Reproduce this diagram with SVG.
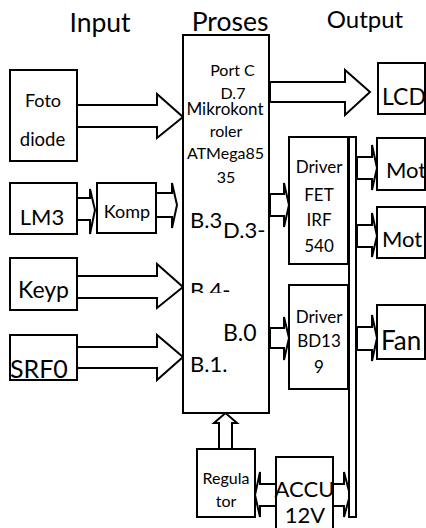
<svg xmlns="http://www.w3.org/2000/svg" width="426" height="528" viewBox="0 0 426 528">
<style>
.box{fill:#fff;stroke:#000;stroke-width:2}
.arr{fill:#fff;stroke:#000;stroke-width:2;stroke-linejoin:miter}
text{font-family:Lato,"Open Sans","Liberation Sans",sans-serif;fill:#000}
.h{font-size:26.5px;text-anchor:middle}
.s{font-size:16px;text-anchor:middle}
.d{font-size:17px;text-anchor:middle}
.m{font-size:23px}
.l{font-size:22px}
</style>
<defs>
<clipPath id="cb4"><rect x="180" y="270" width="80" height="23"/></clipPath>
<clipPath id="csrf"><rect x="0" y="340" width="100" height="38"/></clipPath>
</defs>
<g id="headers">
<text class="h" x="100" y="32">Input</text>
<text class="h" x="230" y="31">Proses</text>
<text x="365" y="28" font-size="24" text-anchor="middle">Output</text>
</g>
<g id="connectors">
<polygon class="arr" points="77,105 157,105 157,94 183,117 157,138 157,127 77,127"/>
<polygon class="arr" points="77,198 90,198 90,189 95,210 90,234 90,220 77,220"/>
<polygon class="arr" points="156,193 172,193 172,183 177,205 172,228 172,217 156,217"/>
<polygon class="arr" points="77,276 157,276 157,264 183,287 157,308 157,298 77,298"/>
<polygon class="arr" points="77,347 157,347 157,335 183,357 157,380 157,368 77,368"/>
<polygon class="arr" points="270,82 345,82 345,70 370,92 345,115 345,102 270,102"/>
<polygon class="arr" points="270,194 284,194 284,183 289,205 284,227 284,216 270,216"/>
<polygon class="arr" points="270,328 284,328 284,317 289,338 284,360 284,348 270,348"/>
<polygon class="arr" points="357,157 372,157 372,145 377,168 372,190 372,179 357,179"/>
<polygon class="arr" points="357,225 372,225 372,213 377,236 372,257 372,247 357,247"/>
<polygon class="arr" points="357,327 372,327 372,315 377,338 372,361 372,350 357,350"/>
<polygon class="arr" points="219,449 219,423 214,423 225.5,413 237,423 232,423 232,449"/>
<polygon class="arr" points="276,484 260,484 260,472 255,495 260,517 260,506 276,506"/>
<polygon class="arr" points="333,484 344,484 344,472 350,495 344,517 344,506 333,506"/>
</g>
<g id="foto">
<rect class="box" x="10" y="70" width="67" height="91"/>
<text x="43" y="107" font-size="18" text-anchor="middle">Foto</text>
<text x="42.5" y="146" font-size="18.5" text-anchor="middle">diode</text>
</g>
<g id="lm3">
<rect class="box" x="10" y="183" width="67" height="51"/>
<text x="42" y="225" font-size="22" text-anchor="middle">LM3</text>
</g>
<g id="komp">
<rect class="box" x="97" y="183" width="59" height="50"/>
<text x="127" y="218" font-size="18" text-anchor="middle">Komp</text>
</g>
<g id="keyp">
<rect class="box" x="10" y="258" width="67" height="52"/>
<text class="m" x="43.5" y="298" text-anchor="middle">Keyp</text>
</g>
<g id="srf0">
<rect class="box" x="10" y="335" width="67" height="45"/>
<text x="10" y="378" font-size="25" clip-path="url(#csrf)">SRF0</text>
</g>
<g id="mikro">
<rect class="box" x="183" y="35" width="86" height="378"/>
<text class="s" x="232.5" y="76">Port C</text>
<text class="s" x="233" y="99">D.7</text>
<text x="225" y="115" font-size="17" text-anchor="middle">Mikrokont</text>
<text class="s" x="226" y="137">roler</text>
<text class="s" x="225.5" y="159">ATMega85</text>
<text class="s" x="226" y="183">35</text>
<text class="l" x="190" y="228">B.3</text>
<text class="l" x="223" y="238">D.3-</text>
<text class="l" x="190" y="298" clip-path="url(#cb4)">B.4-</text>
<text class="m" x="223" y="341">B.0</text>
<text class="l" x="190" y="372">B.1.</text>
</g>
<g id="lcd">
<rect class="box" x="378" y="63" width="47" height="51"/>
<text class="m" x="382" y="105">LCD</text>
</g>
<g id="driverfet">
<rect class="box" x="289" y="137" width="59" height="127"/>
<text class="d" x="319" y="173">Driver</text>
<text class="d" x="319" y="201">FET</text>
<text class="d" x="319" y="226">IRF</text>
<text class="d" x="319" y="252">540</text>
</g>
<g id="driverbd">
<rect class="box" x="289" y="285" width="59" height="104"/>
<text class="d" x="319" y="323">Driver</text>
<text class="d" x="319" y="347">BD13</text>
<text class="d" x="319" y="373">9</text>
</g>
<g id="bus">
<rect class="box" x="349" y="137" width="7" height="380"/>
</g>
<g id="mot1">
<rect class="box" x="377" y="138" width="48" height="52"/>
<text x="386" y="178" font-size="22">Mot</text>
</g>
<g id="mot2">
<rect class="box" x="377" y="207" width="48" height="51"/>
<text x="382" y="247" font-size="22">Mot</text>
</g>
<g id="fan">
<rect class="box" x="377" y="305" width="48" height="54"/>
<text x="381" y="350" font-size="26">Fan</text>
</g>
<g id="regulator">
<rect class="box" x="197" y="449" width="58" height="68"/>
<text class="s" x="226" y="484">Regula</text>
<text class="s" x="226" y="507">tor</text>
</g>
<g id="accu">
<rect class="box" x="276" y="457" width="57" height="80"/>
<text x="304.5" y="497" font-size="22" text-anchor="middle">ACCU</text>
<text x="305" y="523" font-size="22" text-anchor="middle">12V</text>
</g>
</svg>
